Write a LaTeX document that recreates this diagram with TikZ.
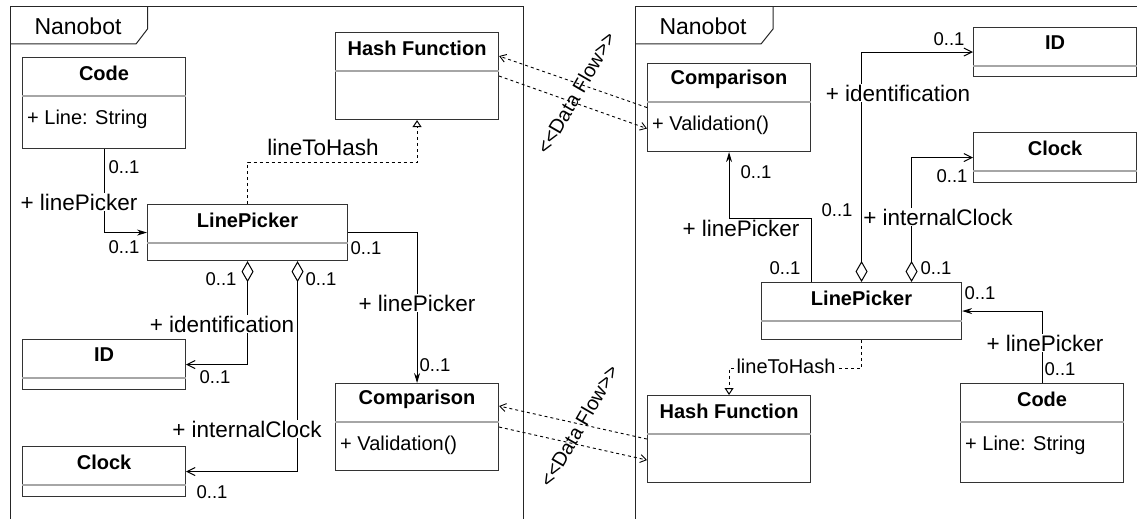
\documentclass[tikz,border=0pt]{standalone}
\usepackage{fontspec}
\setmainfont{Liberation Sans}
\usetikzlibrary{arrows.meta,calc}

\tikzset{
  frameline/.style={draw=black!85, line width=1pt},
  tabtitle/.style={font=\fontsize{23}{25}\selectfont, inner sep=0pt},
  classbox/.style={draw=black!80, line width=1.1pt, fill=white, inner sep=0pt},
  sepline/.style={draw=black!35, line width=1.6pt},
  ctitle/.style={font=\bfseries\fontsize{20}{22}\selectfont, inner sep=0pt},
  cattr/.style={font=\fontsize{20}{22}\selectfont, inner sep=0pt, anchor=west},
  role/.style={font=\fontsize{22.5}{24}\selectfont, fill=white, inner sep=1pt},
  mult/.style={font=\fontsize{18.5}{21}\selectfont, inner sep=0pt},
  flowlabel/.style={font=\fontsize{20}{22}\selectfont, inner sep=0pt},
  conn/.style={draw=black, line width=1pt},
  assoc/.style={conn, -{Stealth[length=10pt,width=6pt]}},
  aggr/.style={conn, {Diamond[length=21pt,width=12pt,fill=white]}-{Straight Barb[length=8pt,width=8pt]}},
  realize/.style={conn, dash pattern=on 3pt off 3pt, -{Triangle[open,length=7pt,width=9pt]}},
  flow/.style={conn, line width=0.9pt, dash pattern=on 3pt off 3pt, -{Straight Barb[length=6pt,width=8pt]}},
}

% name, x, y, width, height, title, attribute
\newcommand{\umlclass}[7]{%
  \node[classbox, anchor=north west, minimum width=#4pt, minimum height=#5pt] (#1) at (#2,#3) {};
  \node[ctitle] (#1-title) at ([yshift=-16pt]#1.north) {#6};
  \draw[sepline] ([yshift=-39pt]#1.north west) -- ([yshift=-39pt]#1.north east);
  \node[cattr] (#1-attr) at ([xshift=5pt,yshift=-62pt]#1.north west) {#7};
}
% stereotype text written with plain angle brackets
\newcommand{\flowtext}{\textless\kern0pt\textless Data Flow\textgreater\kern0pt\textgreater}

\begin{document}
\begin{tikzpicture}[x=1pt,y=-1pt]
\useasboundingbox (0,0) rectangle (1137,519);
\clip (0,0) rectangle (1137,519);

% package frames
\draw[frameline] (10,530) -- (10,7) -- (523,7) -- (523,530);
\draw[frameline] (10,44) -- (136,44) -- (147.5,29) -- (147.5,7);
\node[tabtitle] (frameL-title) at (78,26) {Nanobot};
\draw[frameline] (635,530) -- (635,7) -- (1150,7);
\draw[frameline] (635,44) -- (761,44) -- (773,29) -- (773,7);
\node[tabtitle] (frameR-title) at (703,26) {Nanobot};

% left package classes
\umlclass{codeL}{22}{57}{163}{91}{Code}{+ Line: String}
\umlclass{hashL}{335}{32}{163}{87}{Hash Function}{}
\umlclass{lpL}{147}{204}{200}{56}{LinePicker}{}
\umlclass{compL}{335}{383}{163}{87}{Comparison}{+ Validation()}
\umlclass{idL}{22}{339}{163}{50}{ID}{}
\umlclass{clockL}{22}{446}{163}{50}{Clock}{}

% right package classes
\umlclass{compR}{647}{63}{163}{88}{Comparison}{+ Validation()}
\umlclass{idR}{973}{27}{163}{49}{ID}{}
\umlclass{clockR}{973}{132}{163}{50}{Clock}{}
\umlclass{lpR}{761}{282}{200}{57}{LinePicker}{}
\umlclass{hashR}{647}{395}{163}{87}{Hash Function}{}
\umlclass{codeR}{960}{383}{163}{99}{Code}{+ Line: String}

% left package relations
\draw[assoc] (codeL.south) |- (lpL.west);
\draw[realize] (lpL.north) -- ++(0,-42) -| (hashL.south);
\draw[assoc] (lpL.east) -| (compL.north);
\draw[aggr] (lpL.south) |- (idL.east);
\draw[aggr] ([xshift=50pt]lpL.south) |- (clockL.east);

\node[mult] (mL1) at (124,167) {0..1};
\node[role] (rL1) at (79,202) {+ linePicker};
\node[mult] (mL2) at (124,247) {0..1};
\node[font=\fontsize{22.5}{24}\selectfont, inner sep=0pt] (hL) at (323,147) {lineToHash};
\node[mult] (mL3) at (366,248) {0..1};
\node[role] (rL2) at (417,303) {+ linePicker};
\node[mult] (mL4) at (435,365) {0..1};
\node[mult] (mL5) at (221,279) {0..1};
\node[mult] (mL6) at (321,279) {0..1};
\node[role] (rL3) at (222,324) {+ identification};
\node[mult] (mL7) at (215,377) {0..1};
\node[role] (rL4) at (247,429) {+ internalClock};
\node[mult] (mL8) at (212,492) {0..1};

% right package relations
\draw[aggr] (lpR.north) |- (idR.west);
\draw[aggr] ([xshift=50pt]lpR.north) |- (clockR.west);
\draw[assoc] ([xshift=-50pt]lpR.north) -- ++(0,-64) -| (compR.south);
\draw[assoc] (codeR.north) |- (lpR.east);
\draw[realize] (lpR.south) -- ++(0,28) -| (hashR.north);

\node[mult] (mR1) at (949,39) {0..1};
\node[role] (rR1) at (898,93) {+ identification};
\node[mult] (mR2) at (952,176) {0..1};
\node[mult] (mR3) at (756,172) {0..1};
\node[mult] (mR4) at (837,210) {0..1};
\node[role, inner sep=0.3pt] (rR2) at (938,217) {+ internalClock};
\node[role] (rR3) at (741,228) {+ linePicker};
\node[mult] (mR5) at (785,268) {0..1};
\node[mult] (mR6) at (936,268) {0..1};
\node[mult] (mR7) at (980,293) {0..1};
\node[role] (rR4) at (1045,343) {+ linePicker};
\node[mult] (mR8) at (1060,369) {0..1};
\node[role, font=\fontsize{20}{22}\selectfont] (hR) at (786,366) {lineToHash};

% data flows between the two packages
\draw[flow] (compR.west) -- ([yshift=20pt]hashL.east);
\draw[flow] (hashL.east) -- ([yshift=-21pt]compR.west);
\draw[flow] (hashR.west) -- ([yshift=21pt]compL.east);
\draw[flow] (compL.east) -- ([yshift=-21pt]hashR.west);
\node[flowlabel, rotate=60] (flowTop) at (576,93) {\flowtext};
\node[flowlabel, rotate=60] (flowBot) at (579,426) {\flowtext};
\end{tikzpicture}
\end{document}
